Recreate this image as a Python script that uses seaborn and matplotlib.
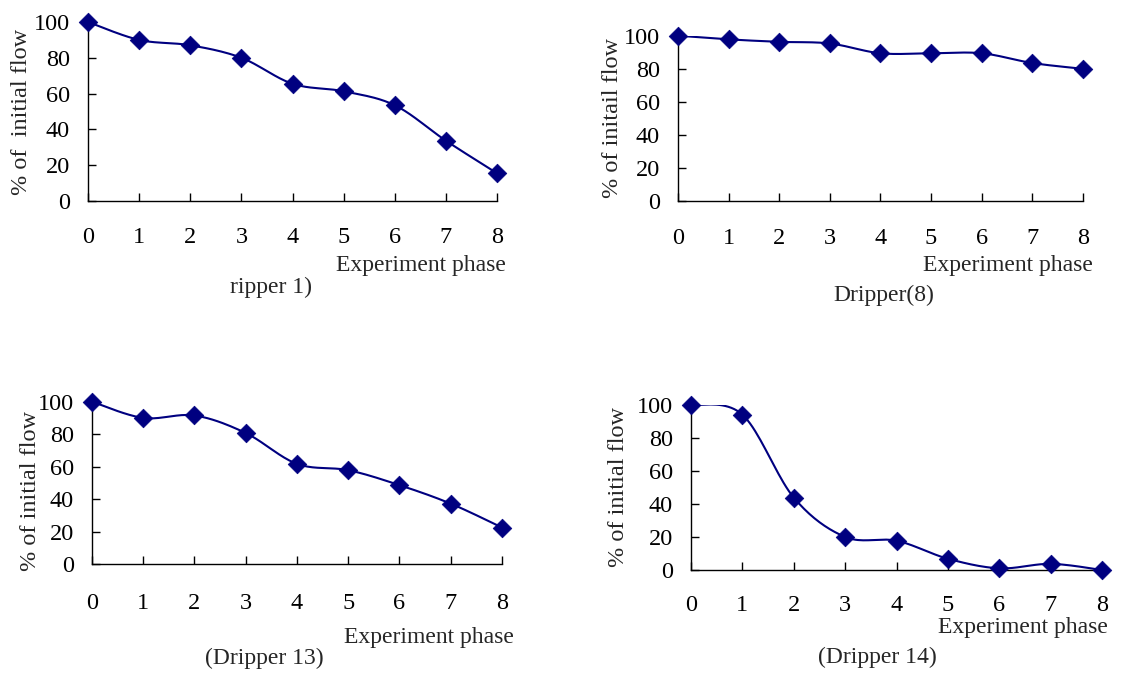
import numpy as np
import pandas as pd
import seaborn as sns
import matplotlib.pyplot as plt

# data (percent of initial flow per experiment phase)
phases = [0, 1, 2, 3, 4, 5, 6, 7, 8]
dripper_1 = [100, 90, 87, 80, 65.5, 61.3, 53.5, 33.7, 15.5]
dripper_8 = [100, 97.8, 96.3, 95.3, 89.4, 89.4, 89.4, 83.5, 80]
dripper_13 = [100, 90, 91.5, 80.7, 61.7, 57.8, 48.6, 37.2, 22.5]
dripper_14 = [100, 94, 43.8, 20, 17.7, 6.8, 1, 3.7, 0]

ylabels = ["% of  initial flow", "% of initail flow", "% of initial flow", "% of initial flow"]
captions = ["ripper 1)", "Dripper(8)", "(Dripper 13)", "(Dripper 14)"]
xlabel = "Experiment phase"

sns.set_theme(style="white")
plt.rcParams['font.family'] = ['Liberation Serif', 'DejaVu Serif']

NAVY = "#000080"


def smooth(x, y, n=20):
    # Excel-style smoothed line (Catmull-Rom through the data points)
    x = np.asarray(x, float)
    y = np.asarray(y, float)
    px = np.concatenate([[x[0]], x, [x[-1]]])
    py = np.concatenate([[y[0]], y, [y[-1]]])
    xs, ys = [], []
    for i in range(1, len(px) - 2):
        t = np.linspace(0, 1, n, endpoint=False)
        for arr, out in ((px, xs), (py, ys)):
            p0, p1, p2, p3 = arr[i - 1], arr[i], arr[i + 1], arr[i + 2]
            out.extend(0.5 * (2 * p1 + (-p0 + p2) * t
                              + (2 * p0 - 5 * p1 + 4 * p2 - p3) * t ** 2
                              + (-p0 + 3 * p1 - 3 * p2 + p3) * t ** 3))
    xs.append(x[-1])
    ys.append(y[-1])
    return np.array(xs), np.array(ys)


fig = plt.figure(figsize=(11.26, 6.75), dpi=100)

boxes = [
    [0.0782, 0.7022, 0.3632, 0.2652],
    [0.6021, 0.7018, 0.3597, 0.2453],
    [0.0817, 0.1644, 0.3641, 0.2405],
    [0.6137, 0.1556, 0.3650, 0.2448],
]
series = [dripper_1, dripper_8, dripper_13, dripper_14]
ylab_x = [0.019, 0.544, 0.027, 0.549]
ylab_dy = [0, 0, -0.012, 0]
xpad = [19, 19, 21, 18]
xlab_pos = [(506, 265), (1093, 265), (514, 637), (1108, 628)]
cap_pos = [(271, 287), (884, 295), (264, 658), (877, 657)]

for k in range(4):
    ax = fig.add_axes(boxes[k])
    df = pd.DataFrame({"phase": phases, "flow": series[k]})
    sx, sy = smooth(phases, series[k])
    sns.lineplot(x=sx, y=sy, ax=ax, color=NAVY, linewidth=1.5,
                 sort=False, estimator=None)
    sns.scatterplot(data=df, x="phase", y="flow", ax=ax, marker="D", s=90,
                    color=NAVY, edgecolor=NAVY, linewidth=0.5, clip_on=False, zorder=5)
    ax.set_xlim(0, 8)
    ax.set_ylim(0, 100)
    ax.set_xticks(phases)
    ax.set_yticks([0, 20, 40, 60, 80, 100])
    ax.set_xlabel("")
    ax.set_ylabel("")
    for s in ["top", "right"]:
        ax.spines[s].set_visible(False)
    for s in ["left", "bottom"]:
        ax.spines[s].set_color("black")
        ax.spines[s].set_linewidth(1.0)
    ax.tick_params(axis="both", direction="in", length=6, width=1.0,
                   labelsize=17.5, colors="black")
    ax.tick_params(axis="x", pad=xpad[k])
    ax.tick_params(axis="y", pad=13)
    ax.tick_params(left=True, bottom=True)

    b = boxes[k]
    fig.text(ylab_x[k], b[1] + b[3] / 2 + ylab_dy[k], ylabels[k], rotation=90,
             ha="center", va="center", fontsize=17.5)
    fig.text(xlab_pos[k][0] / 1126, 1 - xlab_pos[k][1] / 675, xlabel,
             ha="right", va="center", fontsize=17)
    fig.text(cap_pos[k][0] / 1126, 1 - cap_pos[k][1] / 675, captions[k],
             ha="center", va="center", fontsize=17)

fig.savefig("out.png", dpi=100, facecolor="white")
